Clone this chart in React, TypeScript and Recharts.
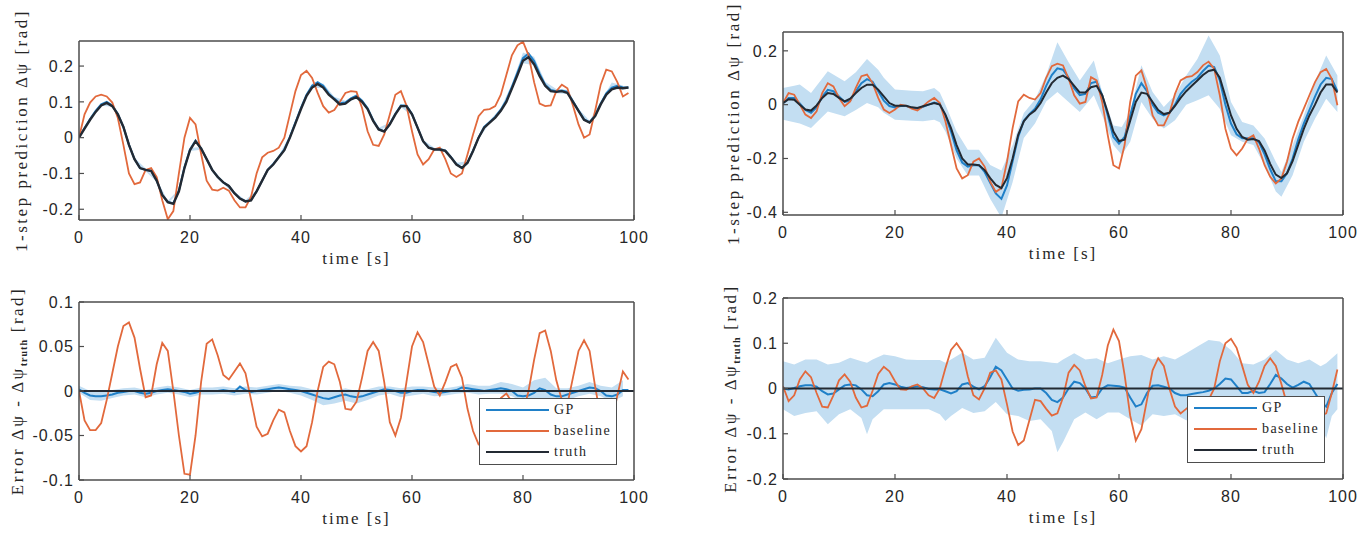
import React from "react";
import { ComposedChart, Line, Area, XAxis, YAxis, Legend } from "recharts";

// sample times (s)
const secs = [
  0, 1, 2, 3, 4, 5, 6, 7, 8, 9, 10, 11, 12, 13, 14, 15, 16, 17, 18, 19,
  20, 21, 22, 23, 24, 25, 26, 27, 28, 29, 30, 31, 32, 33, 34, 35, 36, 37, 38, 39,
  40, 41, 42, 43, 44, 45, 46, 47, 48, 49, 50, 51, 52, 53, 54, 55, 56, 57, 58, 59,
  60, 61, 62, 63, 64, 65, 66, 67, 68, 69, 70, 71, 72, 73, 74, 75, 76, 77, 78, 79,
  80, 81, 82, 83, 84, 85, 86, 87, 88, 89, 90, 91, 92, 93, 94, 95, 96, 97, 98, 99,
];
const evenSecs = [
  0, 2, 4, 6, 8, 10, 12, 14, 16, 18, 20, 22, 24, 26, 28, 30, 32, 34, 36, 38,
  40, 42, 44, 46, 48, 50, 52, 54, 56, 58, 60, 62, 64, 66, 68, 70, 72, 74, 76, 78,
  80, 82, 84, 86, 88, 90, 92, 94, 96, 98,
];
const xTicks = [0, 20, 40, 60, 80, 100];

// ---- top left: 1-step prediction ----
const tlTruth = [
  0.0, 0.025, 0.05, 0.072, 0.09, 0.097, 0.088, 0.065, 0.03, -0.02,
  -0.06, -0.085, -0.09, -0.093, -0.12, -0.16, -0.18, -0.185, -0.15, -0.085,
  -0.035, -0.01, -0.03, -0.06, -0.09, -0.11, -0.125, -0.135, -0.155, -0.17,
  -0.178, -0.175, -0.15, -0.12, -0.09, -0.075, -0.055, -0.035, 0.0, 0.04,
  0.08, 0.117, 0.14, 0.15, 0.14, 0.12, 0.107, 0.093, 0.095, 0.107,
  0.113, 0.1, 0.08, 0.047, 0.023, 0.017, 0.037, 0.065, 0.088, 0.088,
  0.065, 0.028, -0.01, -0.028, -0.033, -0.033, -0.037, -0.055, -0.075, -0.085,
  -0.07, -0.037, 0.0, 0.028, 0.042, 0.056, 0.075, 0.1, 0.137, 0.175,
  0.215, 0.225, 0.205, 0.172, 0.145, 0.13, 0.128, 0.13, 0.125, 0.1,
  0.075, 0.05, 0.042, 0.06, 0.093, 0.12, 0.135, 0.14, 0.138, 0.14,
];
const tlGp = [
  0.002, 0.027, 0.052, 0.075, 0.093, 0.1, 0.09, 0.066, 0.03, -0.02,
  -0.06, -0.085, -0.09, -0.092, -0.12, -0.16, -0.18, -0.183, -0.148, -0.083,
  -0.033, -0.008, -0.03, -0.06, -0.09, -0.11, -0.125, -0.135, -0.155, -0.17,
  -0.178, -0.174, -0.15, -0.12, -0.09, -0.074, -0.054, -0.033, 0.002, 0.043,
  0.083, 0.12, 0.145, 0.155, 0.145, 0.123, 0.109, 0.096, 0.098, 0.11,
  0.117, 0.103, 0.082, 0.048, 0.024, 0.018, 0.038, 0.067, 0.09, 0.09,
  0.066, 0.028, -0.01, -0.028, -0.032, -0.032, -0.036, -0.054, -0.074, -0.084,
  -0.07, -0.036, 0.0, 0.03, 0.044, 0.058, 0.078, 0.104, 0.142, 0.182,
  0.222, 0.235, 0.214, 0.178, 0.148, 0.133, 0.13, 0.132, 0.128, 0.102,
  0.076, 0.051, 0.043, 0.062, 0.095, 0.124, 0.14, 0.145, 0.14, 0.14,
];
const tlBaseline = [
  0.0, 0.065, 0.098, 0.115, 0.12, 0.115, 0.098, 0.055, -0.02, -0.1,
  -0.13, -0.125, -0.09, -0.085, -0.11, -0.175, -0.228, -0.205, -0.1, 0.0,
  0.055, 0.037, -0.045, -0.12, -0.145, -0.148, -0.14, -0.148, -0.175, -0.195,
  -0.195, -0.165, -0.1, -0.055, -0.042, -0.037, -0.028, 0.0, 0.065, 0.13,
  0.175, 0.187, 0.167, 0.125, 0.088, 0.07, 0.077, 0.1, 0.125, 0.13,
  0.128, 0.083, 0.018, -0.02, -0.023, 0.009, 0.065, 0.12, 0.13, 0.09,
  0.018, -0.047, -0.075, -0.06, -0.033, -0.028, -0.06, -0.1, -0.11, -0.1,
  -0.047, 0.009, 0.06, 0.078, 0.08, 0.088, 0.12, 0.175, 0.23, 0.258,
  0.268, 0.23, 0.155, 0.095, 0.088, 0.09, 0.13, 0.148, 0.138, 0.09,
  0.037, 0.0, 0.009, 0.075, 0.148, 0.19, 0.185, 0.155, 0.115, 0.125,
];
const tlBandLo = [
  -0.002, 0.048, 0.089, 0.086, 0.026, -0.064, -0.094, -0.124, -0.184, -0.152,
  -0.037, -0.034, -0.094, -0.129, -0.159, -0.182, -0.154, -0.094, -0.058, -0.003,
  0.078, 0.139, 0.139, 0.104, 0.094, 0.111, 0.077, 0.02, 0.034, 0.085,
  0.062, -0.014, -0.036, -0.04, -0.078, -0.074, -0.004, 0.04, 0.073, 0.134,
  0.208, 0.202, 0.14, 0.124, 0.122, 0.071, 0.039, 0.089, 0.136, 0.134,
];
const tlBandHi = [
  0.006, 0.056, 0.097, 0.094, 0.034, -0.056, -0.086, -0.116, -0.176, -0.144,
  -0.029, -0.026, -0.086, -0.121, -0.151, -0.174, -0.146, -0.086, -0.05, 0.007,
  0.088, 0.151, 0.151, 0.114, 0.103, 0.122, 0.087, 0.028, 0.042, 0.095,
  0.07, -0.006, -0.028, -0.032, -0.07, -0.066, 0.004, 0.048, 0.083, 0.15,
  0.238, 0.226, 0.156, 0.136, 0.134, 0.081, 0.047, 0.101, 0.154, 0.146,
];

// ---- top right: 1-step prediction ----
const trTruth = [
  0.006, 0.02, 0.018, 0.0, -0.018, -0.022, -0.003, 0.025, 0.043, 0.04,
  0.025, 0.012, 0.022, 0.043, 0.062, 0.074, 0.074, 0.056, 0.031, 0.006,
  -0.004, -0.004, -0.004, -0.01, -0.012, -0.006, 0.0, 0.006, 0.0, -0.037,
  -0.087, -0.15, -0.2, -0.222, -0.222, -0.225, -0.243, -0.273, -0.298, -0.31,
  -0.273, -0.2, -0.112, -0.062, -0.037, -0.022, 0.006, 0.045, 0.08, 0.1,
  0.108, 0.095, 0.07, 0.045, 0.045, 0.065, 0.07, 0.035, -0.03, -0.1,
  -0.135, -0.13, -0.06, 0.01, 0.045, 0.04, 0.01, -0.02, -0.035, -0.03,
  -0.005, 0.025, 0.05, 0.07, 0.09, 0.11, 0.125, 0.13, 0.1, 0.03,
  -0.04, -0.09, -0.12, -0.13, -0.128, -0.135, -0.17, -0.22, -0.26, -0.273,
  -0.255, -0.21, -0.15, -0.09, -0.04, 0.0, 0.045, 0.075, 0.075, 0.045,
];
const trGp = [
  0.005, 0.025, 0.025, 0.005, -0.02, -0.03, -0.01, 0.03, 0.055, 0.05,
  0.03, 0.01, 0.015, 0.05, 0.08, 0.095, 0.085, 0.05, 0.015, -0.005,
  -0.01, -0.005, -0.005, -0.012, -0.015, -0.008, 0.0, 0.008, 0.002, -0.04,
  -0.1, -0.17, -0.215, -0.23, -0.225, -0.225, -0.25, -0.29, -0.33, -0.35,
  -0.3, -0.21, -0.12, -0.06, -0.035, -0.015, 0.02, 0.07, 0.11, 0.135,
  0.13, 0.1, 0.06, 0.035, 0.04, 0.08, 0.085, 0.035, -0.04, -0.12,
  -0.145, -0.12, -0.04, 0.04, 0.08, 0.05, 0.0, -0.03, -0.04, -0.03,
  0.0, 0.04, 0.065, 0.085, 0.1, 0.125, 0.145, 0.14, 0.09, 0.0,
  -0.07, -0.11, -0.125, -0.125, -0.125, -0.14, -0.185, -0.24, -0.285, -0.285,
  -0.255, -0.2, -0.13, -0.07, -0.02, 0.03, 0.075, 0.1, 0.095, 0.05,
];
const trBaseline = [
  0.006, 0.043, 0.037, 0.0, -0.037, -0.05, -0.025, 0.043, 0.08, 0.068,
  0.025, -0.006, 0.012, 0.062, 0.106, 0.112, 0.08, 0.025, -0.018, -0.031,
  -0.018, 0.0, -0.004, -0.015, -0.022, -0.006, 0.012, 0.025, 0.006, -0.062,
  -0.15, -0.237, -0.274, -0.262, -0.212, -0.2, -0.23, -0.286, -0.324, -0.31,
  -0.212, -0.087, 0.012, 0.037, 0.025, 0.019, 0.043, 0.1, 0.143, 0.152,
  0.146, 0.096, 0.035, 0.004, 0.01, 0.102, 0.09, 0.01, -0.114, -0.225,
  -0.237, -0.15, 0.01, 0.108, 0.127, 0.06, -0.04, -0.077, -0.077, -0.033,
  0.04, 0.09, 0.102, 0.106, 0.121, 0.146, 0.16, 0.133, 0.035, -0.09,
  -0.163, -0.188, -0.163, -0.126, -0.114, -0.163, -0.225, -0.268, -0.293, -0.274,
  -0.212, -0.126, -0.064, -0.015, 0.035, 0.084, 0.121, 0.133, 0.096, -0.002,
];
const trBandT = [
  0, 2, 3, 5, 8, 11, 13, 15, 17, 18, 20, 23, 25, 27, 28, 29, 31, 33, 35, 37,
  39, 41, 43, 45, 47, 49, 51, 53, 55.5, 57, 59, 60.5, 62, 64, 66, 68, 70, 72, 74, 76,
  78, 80, 82, 84, 86, 88, 89, 91, 93, 95, 97, 99,
];
const trBandLo = [
  -0.056, -0.065, -0.07, -0.087, -0.025, -0.043, -0.02, 0.006, -0.01, -0.03,
  -0.056, -0.06, -0.062, -0.056, -0.065, -0.1, -0.2, -0.263, -0.263, -0.35,
  -0.42, -0.288, -0.124, -0.07, 0.012, 0.047, 0.01, -0.027, 0.035, -0.04,
  -0.15, -0.187, -0.138, 0.01, -0.052, -0.089, -0.058, 0.0, 0.016, 0.035,
  -0.015, -0.114, -0.138, -0.15, -0.225, -0.323, -0.342, -0.262, -0.138, -0.052,
  0.022, -0.027,
];
const trBandHi = [
  0.062, 0.07, 0.075, 0.043, 0.124, 0.087, 0.12, 0.17, 0.13, 0.1,
  0.056, 0.052, 0.05, 0.062, 0.045, 0.0, -0.1, -0.168, -0.168, -0.224,
  -0.245, -0.15, -0.031, 0.019, 0.11, 0.232, 0.158, 0.09, 0.164, 0.047,
  -0.077, -0.083, -0.027, 0.146, 0.047, -0.009, 0.035, 0.108, 0.17, 0.257,
  0.183, 0.01, -0.064, -0.077, -0.126, -0.212, -0.25, -0.15, -0.04, 0.084,
  0.183, 0.108,
];

// ---- bottom left: prediction error ----
const blGp = [
  0.002, -0.002, -0.005, -0.006, -0.006, -0.005, -0.004, -0.002, -0.001, 0.0,
  0.0, -0.002, -0.003, -0.002, 0.0, 0.001, 0.002, 0.001, 0.0, -0.001,
  -0.003, -0.002, 0.0, 0.0, 0.0, 0.0, 0.001, 0.0, -0.001, 0.005,
  0.001, -0.001, 0.0, 0.001, 0.002, 0.003, 0.004, 0.003, 0.002, 0.001,
  0.0, -0.002, -0.004, -0.006, -0.008, -0.009, -0.007, -0.005, -0.004, -0.006,
  -0.007, -0.006, -0.004, -0.002, 0.0, 0.002, 0.001, 0.0, -0.002, -0.002,
  0.0, 0.001, 0.001, 0.0, -0.001, -0.002, -0.001, 0.0, 0.001, 0.004,
  0.003, 0.002, 0.001, 0.0, 0.001, 0.002, 0.003, 0.002, 0.0, -0.005,
  -0.006, -0.005, -0.002, 0.003, 0.001, -0.004, -0.006, -0.006, -0.004, -0.002,
  0.0, 0.002, 0.004, 0.003, 0.0, -0.005, -0.006, -0.004, 0.001, 0.001,
];
const blBaseline = [
  0.0, -0.033, -0.044, -0.044, -0.036, -0.01, 0.02, 0.05, 0.073, 0.077,
  0.06, 0.025, -0.007, -0.005, 0.03, 0.054, 0.045, 0.0, -0.05, -0.093,
  -0.094, -0.05, 0.01, 0.053, 0.058, 0.04, 0.018, 0.013, 0.022, 0.031,
  0.02, -0.01, -0.04, -0.051, -0.048, -0.033, -0.021, -0.024, -0.045, -0.062,
  -0.068, -0.062, -0.035, 0.0, 0.027, 0.033, 0.03, 0.01, -0.02, -0.021,
  -0.012, 0.015, 0.045, 0.055, 0.045, 0.01, -0.035, -0.05, -0.03, 0.01,
  0.05, 0.066, 0.055, 0.03, 0.005, -0.005, 0.01, 0.027, 0.03, 0.015,
  -0.02, -0.045, -0.06, -0.062, -0.045, -0.02, -0.008, -0.003, -0.012, -0.03,
  -0.025, 0.0, 0.035, 0.065, 0.068, 0.045, 0.012, -0.01, -0.015, 0.015,
  0.045, 0.057, 0.045, 0.005, -0.03, -0.045, -0.035, -0.005, 0.022, 0.013,
];
const blBandLo = [
  -0.002, -0.01, -0.011, -0.008, -0.005, -0.004, -0.007, -0.004, -0.002, -0.004,
  -0.007, -0.004, -0.004, -0.003, -0.005, -0.003, -0.004, -0.002, 0.0, -0.002,
  -0.005, -0.01, -0.016, -0.014, -0.011, -0.014, -0.01, -0.005, -0.003, -0.007,
  -0.005, -0.003, -0.006, -0.005, -0.003, -0.002, -0.004, -0.003, -0.003, -0.006,
  -0.012, -0.01, -0.01, -0.013, -0.01, -0.006, -0.003, -0.006, -0.012, -0.006,
];
const blBandHi = [
  0.006, 0.0, -0.001, 0.001, 0.003, 0.004, 0.001, 0.004, 0.006, 0.004,
  0.001, 0.004, 0.004, 0.005, 0.003, 0.005, 0.004, 0.006, 0.008, 0.006,
  0.005, 0.002, 0.0, 0.0, 0.003, 0.0, 0.002, 0.005, 0.005, 0.003,
  0.005, 0.005, 0.004, 0.003, 0.005, 0.008, 0.006, 0.006, 0.01, 0.008,
  0.004, 0.012, 0.015, 0.003, 0.003, 0.006, 0.01, 0.006, 0.004, 0.012,
];

// ---- bottom right: prediction error ----
const brGp = [
  0.0, -0.002, 0.001, 0.005, 0.007, 0.007, 0.004, -0.006, -0.013, -0.011,
  -0.002, 0.007, 0.009, 0.007, -0.002, -0.015, -0.017, -0.006, 0.009, 0.012,
  0.009, 0.004, 0.001, 0.003, 0.005, 0.003, -0.001, -0.002, -0.002, -0.006,
  -0.011, -0.006, 0.009, 0.012, 0.004, -0.002, 0.005, 0.025, 0.048, 0.04,
  0.02, 0.0, -0.005, -0.003, -0.002, 0.0, 0.0, -0.01, -0.025, -0.03,
  -0.02, 0.0, 0.015, 0.012, 0.0, -0.02, -0.018, 0.0, 0.007, 0.006,
  0.005, 0.002, -0.02, -0.04, -0.035, -0.01, 0.006, 0.007, 0.004, 0.0,
  -0.01, -0.015, -0.015, -0.012, -0.01, -0.008, -0.005, 0.0, 0.01, 0.022,
  0.02, 0.005, -0.01, -0.01, -0.005, -0.01, -0.008, 0.01, 0.03, 0.022,
  0.01, 0.002, 0.008, 0.015, 0.01, -0.01, -0.03, -0.04, -0.01, 0.01,
];
const brBaseline = [
  0.005, -0.028, -0.015, 0.02, 0.038, 0.025, -0.01, -0.04, -0.042, -0.015,
  0.018, 0.031, 0.015, -0.02, -0.042, -0.038, -0.005, 0.032, 0.048, 0.038,
  0.016, -0.002, -0.003, 0.005, 0.009, 0.0, -0.015, -0.021, 0.0, 0.045,
  0.085, 0.1, 0.082, 0.027, -0.015, -0.024, 0.0, 0.035, 0.04, 0.02,
  -0.035, -0.095, -0.125, -0.115, -0.07, -0.025, -0.028, -0.045, -0.06, -0.055,
  -0.02, 0.035, 0.052, 0.04, 0.005, -0.022, -0.02, 0.03, 0.095, 0.13,
  0.105, 0.03, -0.06, -0.115, -0.09, -0.025, 0.04, 0.067, 0.05, 0.0,
  -0.04, -0.055, -0.045, -0.035, -0.03, -0.035, -0.025, 0.0, 0.06, 0.1,
  0.11, 0.09, 0.05, 0.008, -0.01, 0.015, 0.05, 0.067, 0.05, 0.01,
  -0.035, -0.06, -0.07, -0.075, -0.07, -0.065, -0.06, -0.055, -0.01, 0.042,
];
const brBandT = [
  0, 2, 4, 6, 8, 10, 12, 14, 15, 16, 18, 20, 22, 24, 26, 28, 29, 30, 32, 34,
  36, 38, 40, 42, 44, 46, 48, 49, 50, 52, 54, 56, 58, 60, 62, 64, 66, 68, 70, 72,
  74, 76, 78, 80, 82, 84, 86, 88, 90, 92, 94, 96, 97, 98, 99,
];
const brBandLo = [
  -0.046, -0.061, -0.054, -0.05, -0.079, -0.057, -0.046, -0.065, -0.101, -0.068,
  -0.046, -0.046, -0.046, -0.046, -0.046, -0.057, -0.072, -0.061, -0.043, -0.054,
  -0.05, -0.03, -0.057, -0.061, -0.072, -0.068, -0.094, -0.141, -0.119, -0.068,
  -0.053, -0.068, -0.053, -0.053, -0.068, -0.082, -0.057, -0.061, -0.057, -0.07,
  -0.07, -0.06, -0.06, -0.07, -0.08, -0.07, -0.06, -0.04, -0.06, -0.07,
  -0.06, -0.08, -0.11, -0.061, -0.046,
];
const brBandHi = [
  0.06, 0.053, 0.064, 0.064, 0.053, 0.057, 0.068, 0.06, 0.057, 0.064,
  0.075, 0.071, 0.064, 0.063, 0.063, 0.063, 0.057, 0.064, 0.079, 0.064,
  0.068, 0.112, 0.079, 0.064, 0.06, 0.06, 0.057, 0.056, 0.064, 0.078,
  0.064, 0.067, 0.056, 0.064, 0.071, 0.074, 0.064, 0.071, 0.064, 0.078,
  0.093, 0.107, 0.104, 0.085, 0.056, 0.053, 0.064, 0.085, 0.064, 0.056,
  0.064, 0.049, 0.056, 0.067, 0.078,
];

// truth error is zero across the run
const errTruthT = [0, 100];
const errTruthV = [0, 0];

const SERIF = '"Liberation Serif", "Times New Roman", serif';
const SANS = '"Liberation Sans", Arial, sans-serif';
const GP_C = "#2080c8";
const BASE_C = "#e2693c";
const TRUTH_C = "#232a33";
const BAND_C = "#c3def2";
const BOX_C = "#4d4d4d";
const TXT_C = "#262626";
const legendNames = ["GP", "baseline", "truth"];

type Pt = { t: number; v: number };
type Band = { t: number; lo: number; hi: number };

const pts = (ts: number[], ys: number[]): Pt[] => ts.map((t, i) => ({ t, v: ys[i] }));
const band = (ts: number[], lo: number[], hi: number[]): Band[] =>
  ts.map((t, i) => ({ t, lo: lo[i], hi: hi[i] }));

function YTitle(props: any) {
  const { viewBox, kind, gap } = props;
  const x = viewBox.x + viewBox.width - gap;
  const y = viewBox.y + viewBox.height / 2;
  return (
    <text
      x={x}
      y={y}
      transform={`rotate(-90 ${x} ${y})`}
      textAnchor="middle"
      fill={TXT_C}
      fontFamily={SERIF}
      fontSize={17}
      letterSpacing={2.5}
    >
      {kind === "pred" ? (
        "1-step prediction Δψ [rad]"
      ) : (
        <>
          <tspan>Error Δψ - Δψ</tspan>
          <tspan fontSize={10} fontWeight="bold" letterSpacing={1} dy={4}>
            truth
          </tspan>
          <tspan dy={-4}> [rad]</tspan>
        </>
      )}
    </text>
  );
}

function XTitle(props: any) {
  const { viewBox } = props;
  const x = viewBox.x + viewBox.width / 2;
  const y = viewBox.y + 44;
  return (
    <text x={x} y={y} textAnchor="middle" fill={TXT_C} fontFamily={SERIF} fontSize={17} letterSpacing={2}>
      time [s]
    </text>
  );
}

function BoxLegend(props: any) {
  const items = (props.payload || [])
    .filter((p: any) => legendNames.includes(p.value))
    .sort((a: any, b: any) => legendNames.indexOf(a.value) - legendNames.indexOf(b.value));
  return (
    <div
      style={{
        width: 138,
        height: 67,
        boxSizing: "border-box",
        border: `1.5px solid ${BOX_C}`,
        background: "#fff",
      }}
    >
      {items.map((it: any) => (
        <div key={it.value} style={{ display: "flex", alignItems: "center", height: 21 }}>
          <div style={{ width: 63, marginLeft: 6, borderTop: `2.5px solid ${it.color}` }} />
          <span
            style={{
              marginLeft: 5,
              fontFamily: SERIF,
              fontSize: 14,
              letterSpacing: 1.4,
              color: TXT_C,
              lineHeight: "21px",
            }}
          >
            {it.value}
          </span>
        </div>
      ))}
    </div>
  );
}

interface PanelProps {
  left: number;
  top: number;
  width: number;
  height: number;
  margin: { top: number; right: number; bottom: number; left: number };
  yDomain: [number, number];
  yTicks: number[];
  kind: "pred" | "err";
  titleGap: number;
  bandData: Band[];
  gp: Pt[];
  baseline: Pt[];
  truth: Pt[];
  truthWidth: number;
  legendPos?: { left: number; top: number };
}

function Panel(p: PanelProps) {
  const axisLine = { stroke: BOX_C, strokeWidth: 1.5 };
  const tickLine = { stroke: BOX_C, strokeWidth: 1.2 };
  const tickFont = { fill: TXT_C, fontSize: 16, fontFamily: SANS, letterSpacing: 1 };
  return (
    <div style={{ position: "absolute", left: p.left, top: p.top }}>
      <ComposedChart width={p.width} height={p.height} margin={p.margin}>
        <XAxis
          xAxisId="b"
          dataKey="t"
          type="number"
          domain={[0, 100]}
          ticks={xTicks}
          interval={0}
          allowDataOverflow
          height={50}
          tickSize={-5}
          tickMargin={17}
          axisLine={axisLine}
          tickLine={tickLine}
          tick={tickFont}
          label={<XTitle />}
        />
        <XAxis
          xAxisId="t"
          orientation="top"
          dataKey="t"
          type="number"
          domain={[0, 100]}
          ticks={xTicks}
          interval={0}
          allowDataOverflow
          height={1}
          tickSize={-5}
          tick={false}
          axisLine={axisLine}
          tickLine={tickLine}
        />
        <YAxis
          yAxisId="l"
          type="number"
          domain={p.yDomain}
          ticks={p.yTicks}
          interval={0}
          allowDataOverflow
          width={60}
          tickSize={-5}
          tickMargin={10}
          axisLine={axisLine}
          tickLine={tickLine}
          tick={tickFont}
          tickFormatter={(v: number) => String(v)}
          label={<YTitle kind={p.kind} gap={p.titleGap} />}
        />
        <YAxis
          yAxisId="r"
          orientation="right"
          type="number"
          domain={p.yDomain}
          ticks={p.yTicks}
          interval={0}
          allowDataOverflow
          width={1}
          tickSize={-5}
          tick={false}
          axisLine={axisLine}
          tickLine={tickLine}
        />
        <Area
          xAxisId="b"
          yAxisId="l"
          data={p.bandData}
          dataKey={(d: Band) => [d.lo, d.hi]}
          type="linear"
          stroke="none"
          fill={BAND_C}
          fillOpacity={1}
          legendType="none"
          isAnimationActive={false}
        />
        <Line
          xAxisId="b"
          yAxisId="l"
          data={p.gp}
          dataKey="v"
          name="GP"
          type="linear"
          stroke={GP_C}
          strokeWidth={2}
          dot={false}
          isAnimationActive={false}
        />
        <Line
          xAxisId="b"
          yAxisId="l"
          data={p.baseline}
          dataKey="v"
          name="baseline"
          type="linear"
          stroke={BASE_C}
          strokeWidth={1.8}
          dot={false}
          isAnimationActive={false}
        />
        <Line
          xAxisId="b"
          yAxisId="l"
          data={p.truth}
          dataKey="v"
          name="truth"
          type="linear"
          stroke={TRUTH_C}
          strokeWidth={p.truthWidth}
          dot={false}
          isAnimationActive={false}
        />
        {p.legendPos && (
          <Legend
            layout="horizontal"
            verticalAlign="middle"
            align="center"
            content={<BoxLegend />}
            wrapperStyle={{ left: p.legendPos.left, top: p.legendPos.top, width: 138, height: 67 }}
          />
        )}
      </ComposedChart>
    </div>
  );
}

export default function App() {
  return (
    <div
      style={{
        position: "absolute",
        left: 0,
        top: 0,
        width: 1369,
        height: 533,
        background: "#fff",
        overflow: "hidden",
      }}
    >
      <Panel
        left={0}
        top={0}
        width={660}
        height={275}
        margin={{ top: 40, right: 25, bottom: 5, left: 19 }}
        yDomain={[-0.23, 0.27]}
        yTicks={[-0.2, -0.1, 0, 0.1, 0.2]}
        kind="pred"
        titleGap={52}
        bandData={band(evenSecs, tlBandLo, tlBandHi)}
        gp={pts(secs, tlGp)}
        baseline={pts(secs, tlBaseline)}
        truth={pts(secs, tlTruth)}
        truthWidth={2.4}
      />
      <Panel
        left={690}
        top={0}
        width={679}
        height={275}
        margin={{ top: 31, right: 25, bottom: 10, left: 33 }}
        yDomain={[-0.41, 0.27]}
        yTicks={[-0.4, -0.2, 0, 0.2]}
        kind="pred"
        titleGap={44}
        bandData={band(trBandT, trBandLo, trBandHi)}
        gp={pts(secs, trGp)}
        baseline={pts(secs, trBaseline)}
        truth={pts(secs, trTruth)}
        truthWidth={2}
      />
      <Panel
        left={0}
        top={275}
        width={660}
        height={258}
        margin={{ top: 26, right: 25, bottom: 3, left: 19 }}
        yDomain={[-0.1, 0.1]}
        yTicks={[-0.1, -0.05, 0, 0.05, 0.1]}
        kind="err"
        titleGap={56}
        bandData={band(evenSecs, blBandLo, blBandHi)}
        gp={pts(secs, blGp)}
        baseline={pts(secs, blBaseline)}
        truth={pts(errTruthT, errTruthV)}
        truthWidth={2}
        legendPos={{ left: 479, top: 123 }}
      />
      <Panel
        left={690}
        top={275}
        width={679}
        height={258}
        margin={{ top: 22, right: 25, bottom: 4, left: 33 }}
        yDomain={[-0.2, 0.2]}
        yTicks={[-0.2, -0.1, 0, 0.1, 0.2]}
        kind="err"
        titleGap={47}
        bandData={band(brBandT, brBandLo, brBandHi)}
        gp={pts(secs, brGp)}
        baseline={pts(secs, brBaseline)}
        truth={pts(errTruthT, errTruthV)}
        truthWidth={2}
        legendPos={{ left: 497, top: 121 }}
      />
    </div>
  );
}
